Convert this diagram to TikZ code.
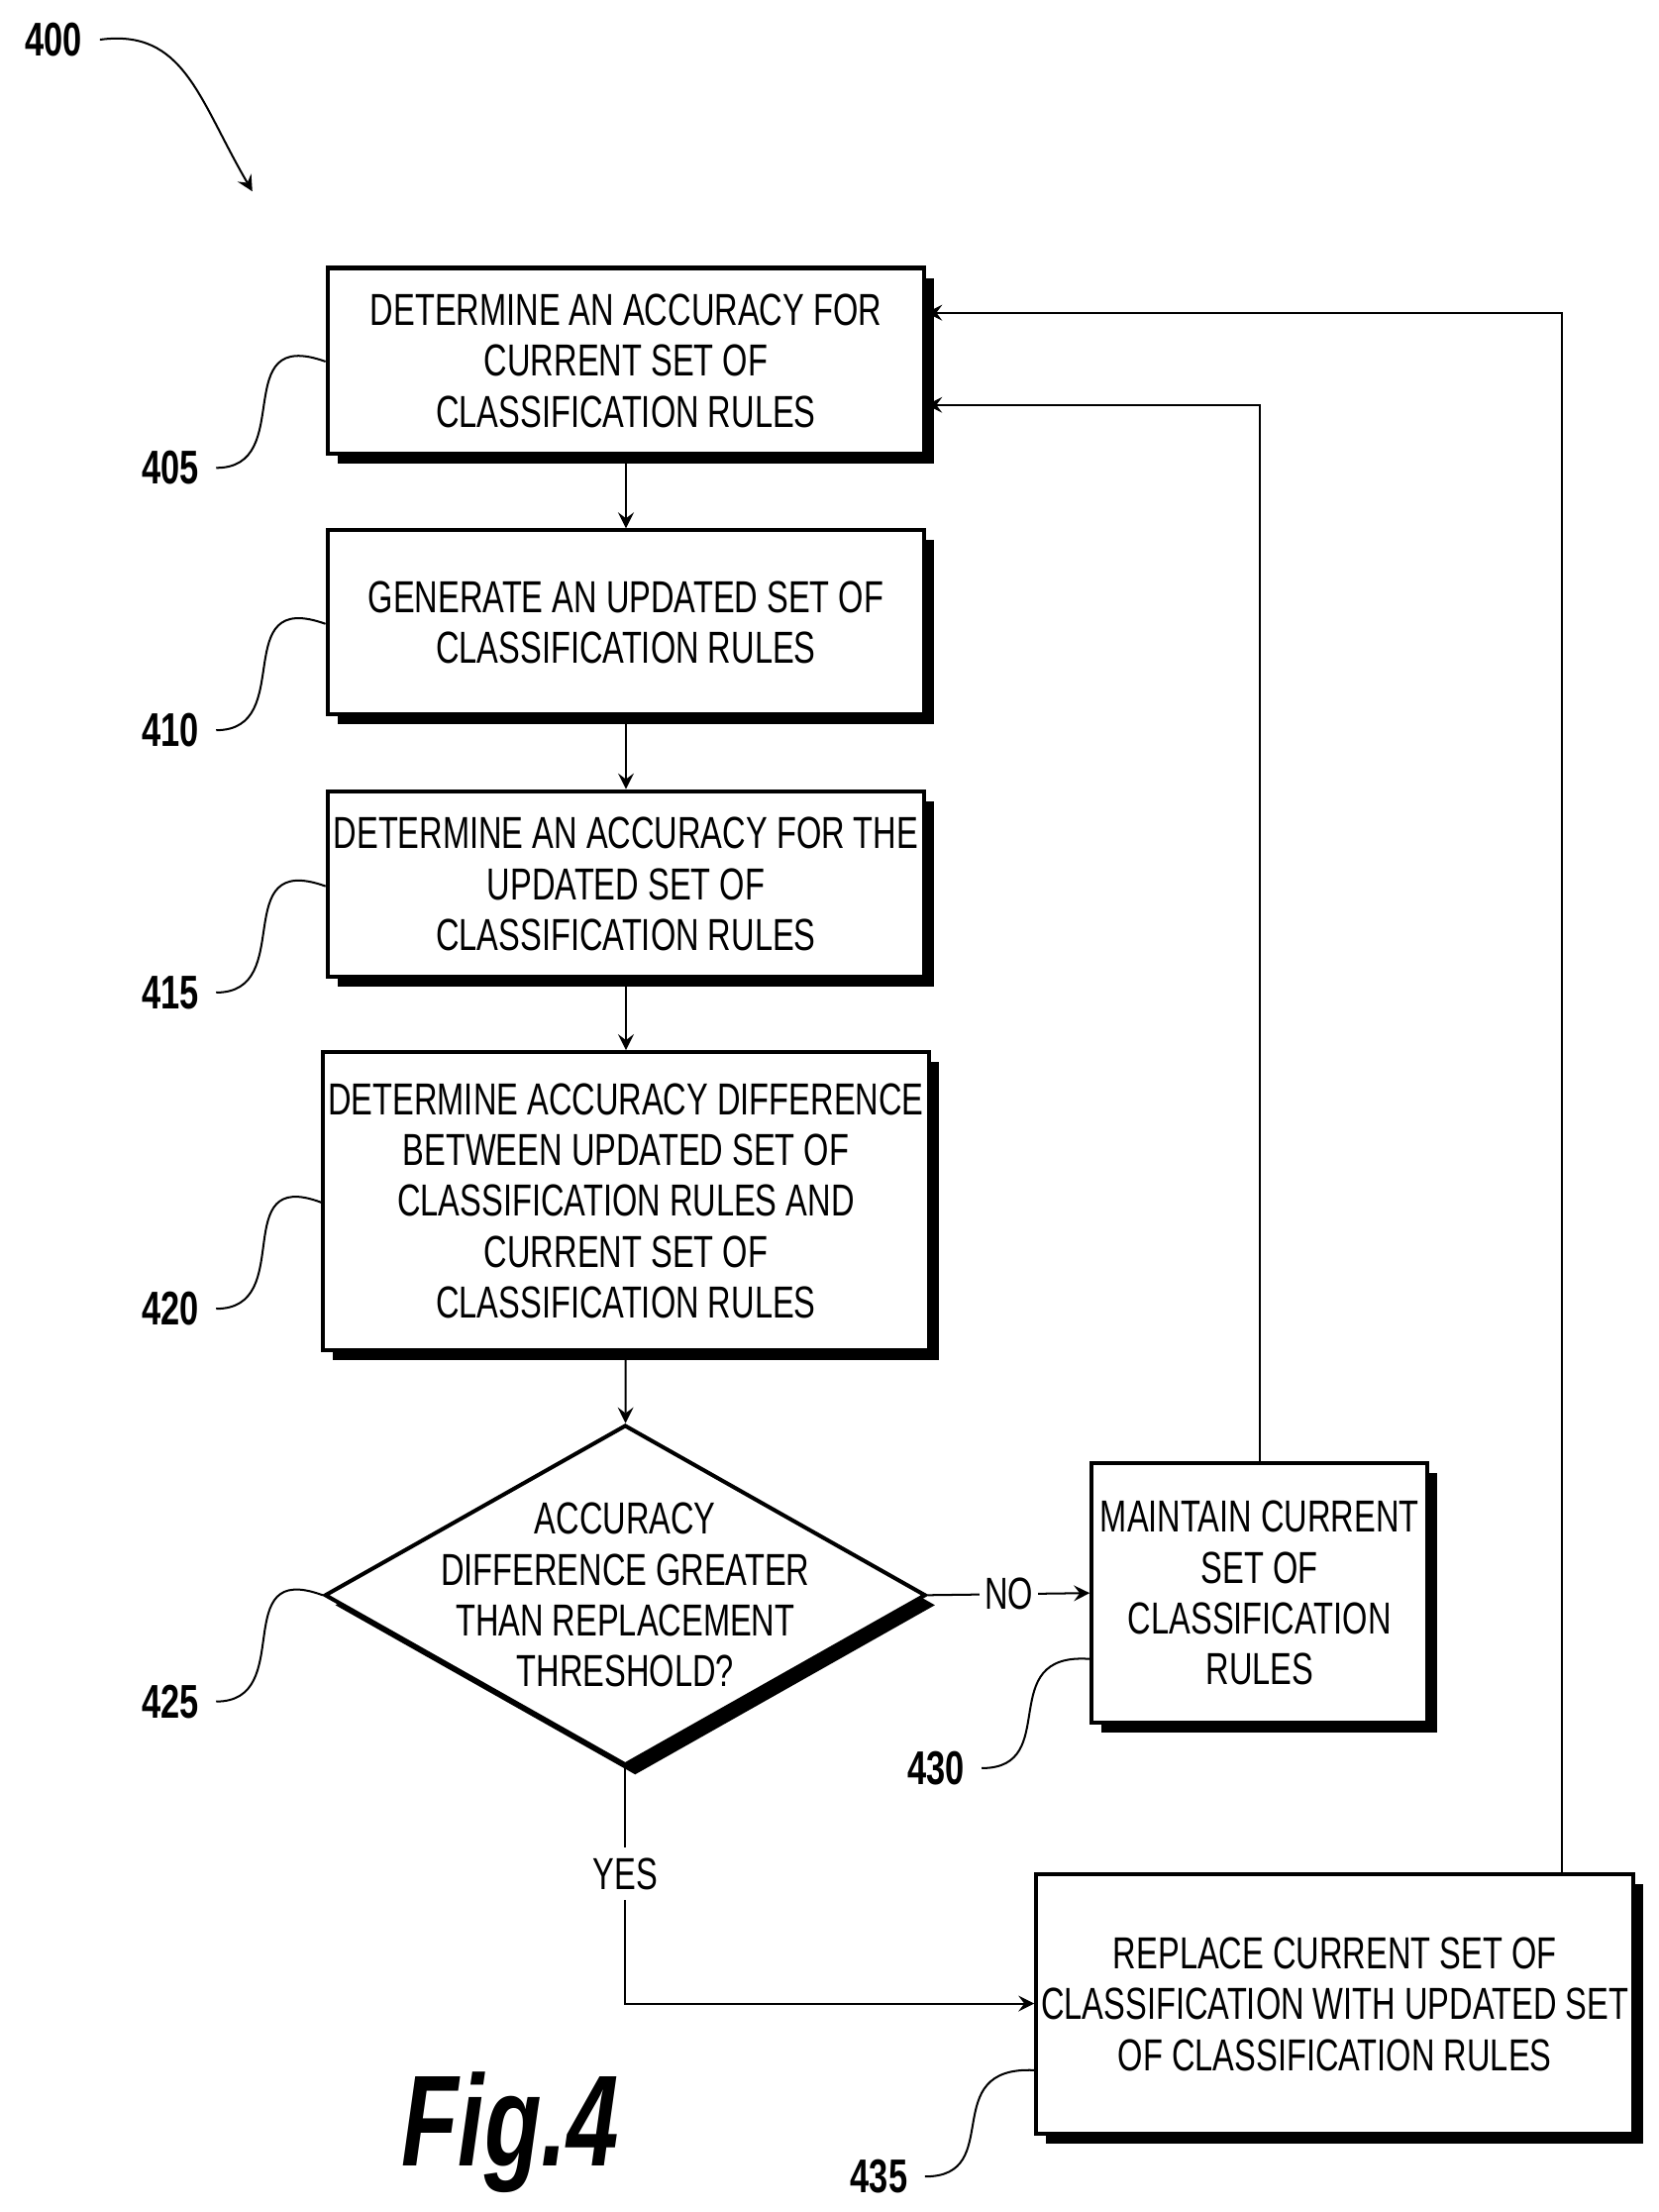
\documentclass[tikz,border=0pt]{standalone}
\usepackage{fontspec}
\setmainfont{Liberation Sans}[FakeStretch=0.72]
\usetikzlibrary{shadows,shapes.geometric}
\begin{document}
\begin{tikzpicture}[
    font=\fontsize{9}{10.2}\selectfont,
    procbox/.style={draw, thick, fill=white, align=center, inner sep=1pt,
      drop shadow={shadow xshift=0.07cm, shadow yshift=-0.07cm, fill=black, opacity=1}},
    ref/.style={font=\fontsize{9.5}{10}\selectfont\bfseries},
    lead/.style={thin},
    arr/.style={->, >=stealth, thin}
  ]
    \useasboundingbox (0,0) rectangle (11.7,15.6);

    % Title reference
    \node[ref] (n400) at (0.38,15.32) {400};
    \draw[arr] (n400.east) .. controls (1.3,15.4) and (1.4,14.9) .. (1.78,14.25);

    % Process boxes
    \node[procbox, minimum width=4.21cm, minimum height=1.31cm] (b405) at (4.415,13.055)
      {DETERMINE AN ACCURACY FOR\\CURRENT SET OF\\CLASSIFICATION RULES};
    \node[procbox, minimum width=4.21cm, minimum height=1.30cm] (b410) at (4.415,11.21)
      {GENERATE AN UPDATED SET OF\\CLASSIFICATION RULES};
    \node[procbox, minimum width=4.21cm, minimum height=1.31cm] (b415) at (4.415,9.365)
      {DETERMINE AN ACCURACY FOR THE\\UPDATED SET OF\\CLASSIFICATION RULES};
    \node[procbox, minimum width=4.21cm, minimum height=2.10cm] (b420) at (4.415,7.13)
      {DETERMINE ACCURACY DIFFERENCE\\BETWEEN UPDATED SET OF\\CLASSIFICATION RULES AND\\CURRENT SET OF\\CLASSIFICATION RULES};

    % Decision
    \node[procbox, diamond, aspect=1.77, inner sep=-14pt, minimum width=4.24cm, minimum height=2.4cm] (d425) at (4.41,4.35)
      {ACCURACY\\DIFFERENCE GREATER\\THAN REPLACEMENT\\THRESHOLD?};

    \node[procbox, minimum width=2.37cm, minimum height=1.83cm] (b430) at (8.885,4.365)
      {MAINTAIN CURRENT\\SET OF\\CLASSIFICATION\\RULES};
    \node[procbox, minimum width=4.21cm, minimum height=1.83cm] (b435) at (9.415,1.465)
      {REPLACE CURRENT SET OF\\CLASSIFICATION WITH UPDATED SET\\OF CLASSIFICATION RULES};

    % Arrows
    \draw[arr] (b405) -- (b410);
    \draw[arr] (b410) -- (b415);
    \draw[arr] (b415) -- (b420);
    \draw[arr] (b420) -- (d425);
    \draw[arr] (d425.east) -- node[fill=white, inner sep=1pt] {NO} (b430.west);
    \coordinate (c435) at (4.41,1.47);
    \draw[arr] (d425.south) -- node[fill=white, pos=0.45, inner sep=2pt] {YES} (c435) -- (b435.west |- c435);
    \draw[arr] (b430.north) |- ([yshift=-0.98cm]b405.north east);
    \draw[arr] ([xshift=-0.52cm]b435.north east) |- ([yshift=-0.33cm]b405.north east);

    % Reference numerals
    \foreach \name/\num/\y in {b405/405/12.3, b410/410/10.45, b415/415/8.6, b420/420/6.37, d425/425/3.6}{
      \node[ref] (r\num) at (1.2,\y) {\num};
      \draw[lead] (r\num.east) .. controls (2.1,\y) and (1.6,\y+1.0) .. (\name.west |- 0,\y+0.75);
    }
    \node[ref] (r430) at (6.6,3.13) {430};
    \draw[lead] (r430.east) .. controls (7.5,3.13) and (7.0,3.95) .. (b430.west |- 0,3.9);
    \node[ref] (r435) at (6.2,0.25) {435};
    \draw[lead] (r435.east) .. controls (7.1,0.25) and (6.6,1.03) .. (b435.west |- 0,1.0);

    % Figure label
    \node[font=\fontsize{26}{28}\selectfont\bfseries\itshape] (fig) at (3.6,0.56) {Fig.4};
\end{tikzpicture}
\end{document}
